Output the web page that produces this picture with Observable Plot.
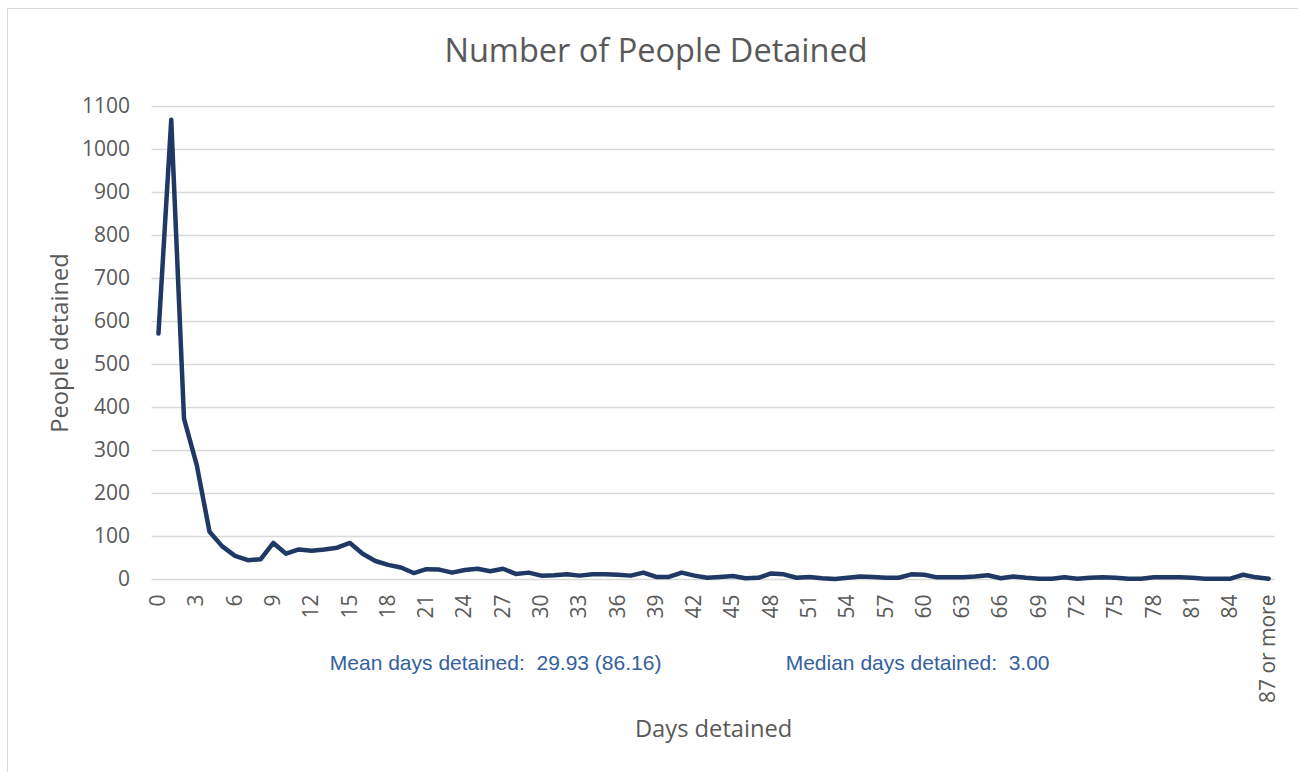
<!DOCTYPE html>
<html>
<head>
<meta charset="utf-8">
<script src="https://cdn.jsdelivr.net/npm/d3@7"></script>
<script src="https://cdn.jsdelivr.net/npm/@observablehq/plot@0.6"></script>
<style>
  html, body { margin: 0; padding: 0; background: #fff; overflow: hidden; width: 1298px; height: 772px; }
  #frame { position: absolute; left: 7px; top: 8px; width: 1400px; height: 900px; border: 1.5px solid #d9d9d9; box-sizing: border-box; pointer-events: none; }
  #title { height: 88px; box-sizing: border-box; padding-top: 31px; line-height: 38px; text-align: center; font-family: "Open Sans", sans-serif; font-size: 32.5px; color: #595959; padding-left: 14px; }
  #chart svg { display: block; }
</style>
</head>
<body>
<div id="frame"></div>
<div id="title">Number of People Detained</div>
<div id="chart"></div>
<script>
const dayLabels = [
  "0","1","2","3","4","5","6","7","8","9","10","11","12","13","14","15","16","17","18","19",
  "20","21","22","23","24","25","26","27","28","29","30","31","32","33","34","35","36","37","38","39",
  "40","41","42","43","44","45","46","47","48","49","50","51","52","53","54","55","56","57","58","59",
  "60","61","62","63","64","65","66","67","68","69","70","71","72","73","74","75","76","77","78","79",
  "80","81","82","83","84","85","86","87 or more"
];
const peopleDetained = [
  572,1069,374,266,111,77,55,45,47,85,60,70,67,70,74,85,60,43,34,28,
  15,24,23,16,22,25,19,25,13,16,9,10,12,9,12,12,11,9,16,6,
  6,16,9,4,6,8,3,4,14,12,4,6,3,1,4,7,6,4,4,12,
  11,5,5,5,7,10,3,7,4,2,2,5,2,4,5,4,2,2,5,5,
  5,4,2,2,2,11,5,2
];
const yTicks = [0,100,200,300,400,500,600,700,800,900,1000,1100];
const xTickLabels = dayLabels.filter((d, i) => i % 3 === 0);
const yLabel = "People detained";
const xLabel = "Days detained";
const meanNote = "Mean days detained:  29.93 (86.16)";
const medianNote = "Median days detained:  3.00";

const data = dayLabels.map((d, i) => ({day: d, value: peopleDetained[i]}));

const chart = Plot.plot({
  width: 1298,
  height: 684,
  marginTop: 18,
  marginBottom: 193,
  marginLeft: 151.6,
  marginRight: 23.4,
  style: {fontFamily: "'Open Sans', sans-serif", fontSize: "21px", color: "#595959", background: "transparent"},
  x: {type: "point", domain: dayLabels, padding: 0.5, label: null},
  y: {domain: [0, 1100], label: null},
  marks: [
    Plot.ruleY(yTicks, {stroke: "#d9d9d9", strokeWidth: 1.3}),
    Plot.axisY({ticks: yTicks, tickFormat: d => String(d), tickSize: 0, tickPadding: 22, label: null, fontSize: 21, fill: "#595959"}),
    Plot.axisX({ticks: xTickLabels, tickSize: 0, tickPadding: 15, tickRotate: -90, label: null, fontSize: 21, fill: "#595959"}),
    Plot.line(data, {x: "day", y: "value", stroke: "#203864", strokeWidth: 4.5, strokeLinejoin: "round", strokeLinecap: "round"}),
    Plot.text([yLabel], {frameAnchor: "left", textAnchor: "middle", rotate: -90, dx: -92, fontSize: 23.7, fill: "#595959"}),
    Plot.text([xLabel], {frameAnchor: "bottom", textAnchor: "middle", dy: 157, fontSize: 23.7, fill: "#595959"}),
    Plot.text([meanNote], {frameAnchor: "bottom", textAnchor: "middle", dx: -218, dy: 90, fontSize: 21, fill: "#3460A0", fontFamily: "'Liberation Sans', Arial, sans-serif"}),
    Plot.text([medianNote], {frameAnchor: "bottom", textAnchor: "middle", dx: 204, dy: 90, fontSize: 21, fill: "#3460A0", fontFamily: "'Liberation Sans', Arial, sans-serif"})
  ]
});
document.getElementById("chart").appendChild(chart);
</script>
</body>
</html>
